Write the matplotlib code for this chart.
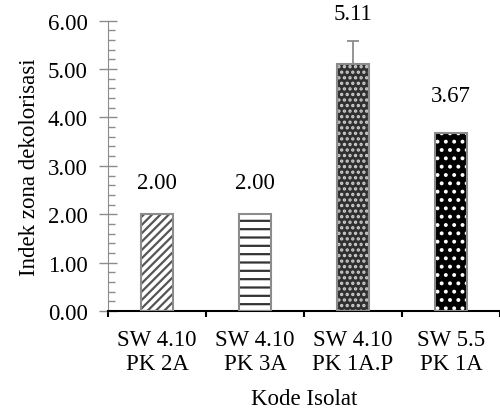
import numpy as np
import matplotlib.pyplot as plt
from matplotlib.ticker import MultipleLocator

plt.rcParams['font.family'] = ['Liberation Serif', 'DejaVu Serif']
plt.rcParams['hatch.linewidth'] = 1.6

# Data
kode = ['SW 4.10\nPK 2A', 'SW 4.10\nPK 3A', 'SW 4.10\nPK 1A.P', 'SW 5.5\nPK 1A']
nilai = [2.00, 2.00, 5.11, 3.67]
galat = [0, 0, 0.46, 0]
label_y = [2.65, 2.65, 6.15, 4.45]

faces = ['white', 'white', '#303030', 'black']
hatch_cols = ['#555555', '#333333', '#cfcfcf', 'white']
hatches = ['////', '--', '...', '..']

fig = plt.figure(figsize=(5, 4.14), dpi=100)
ax = fig.add_axes([0.216, 0.246, 0.784, 0.702])

x = np.arange(len(kode))
w = 0.32
for i in range(len(kode)):
    # hatch layer
    ax.bar(x[i], nilai[i], w, color=faces[i], edgecolor=hatch_cols[i],
           hatch=hatches[i], linewidth=0, zorder=2)
    # outline
    ax.bar(x[i], nilai[i], w, fill=False, edgecolor='#8c8c8c', linewidth=1.5, zorder=3)

ax.errorbar(x[2], nilai[2], yerr=[[0], [galat[2]]], fmt='none', ecolor='#8c8c8c',
            elinewidth=1.3, capsize=4, capthick=1.3, zorder=4)

for i in range(len(kode)):
    ax.text(x[i], label_y[i], '%.2f' % nilai[i], ha='center', va='center',
            fontsize=16.5, clip_on=False)

ax.set_xlim(-0.5, 3.5)
ax.set_ylim(0, 6)
ax.yaxis.set_minor_locator(MultipleLocator(0.2))
ax.set_yticks(np.arange(0, 7, 1))
ax.set_yticklabels(['%.2f' % v for v in np.arange(0, 7, 1)])
ax.set_xticks(x)
ax.set_xticks(np.arange(-0.5, 4, 1), minor=True)
ax.set_xticklabels(kode)
ax.tick_params(axis='x', which='major', length=0, labelsize=16.5, pad=13)
ax.tick_params(axis='x', which='minor', direction='out', length=4, width=1.5, color='black')
ax.tick_params(axis='y', which='major', direction='inout', length=13, width=1,
               color='#8c8c8c', labelsize=16.5, pad=8)
ax.tick_params(axis='y', which='minor', direction='in', length=5, width=1, color='#8c8c8c')

for s in ['top', 'right']:
    ax.spines[s].set_visible(False)
ax.spines['left'].set_color('#8c8c8c')
ax.spines['bottom'].set_color('black')
ax.spines['bottom'].set_linewidth(1.5)

ax.set_ylabel('Indek zona dekolorisasi', fontsize=16.5, labelpad=6)
ax.set_xlabel('Kode Isolat', fontsize=16.5, labelpad=10)

plt.savefig('out.png', dpi=100)
